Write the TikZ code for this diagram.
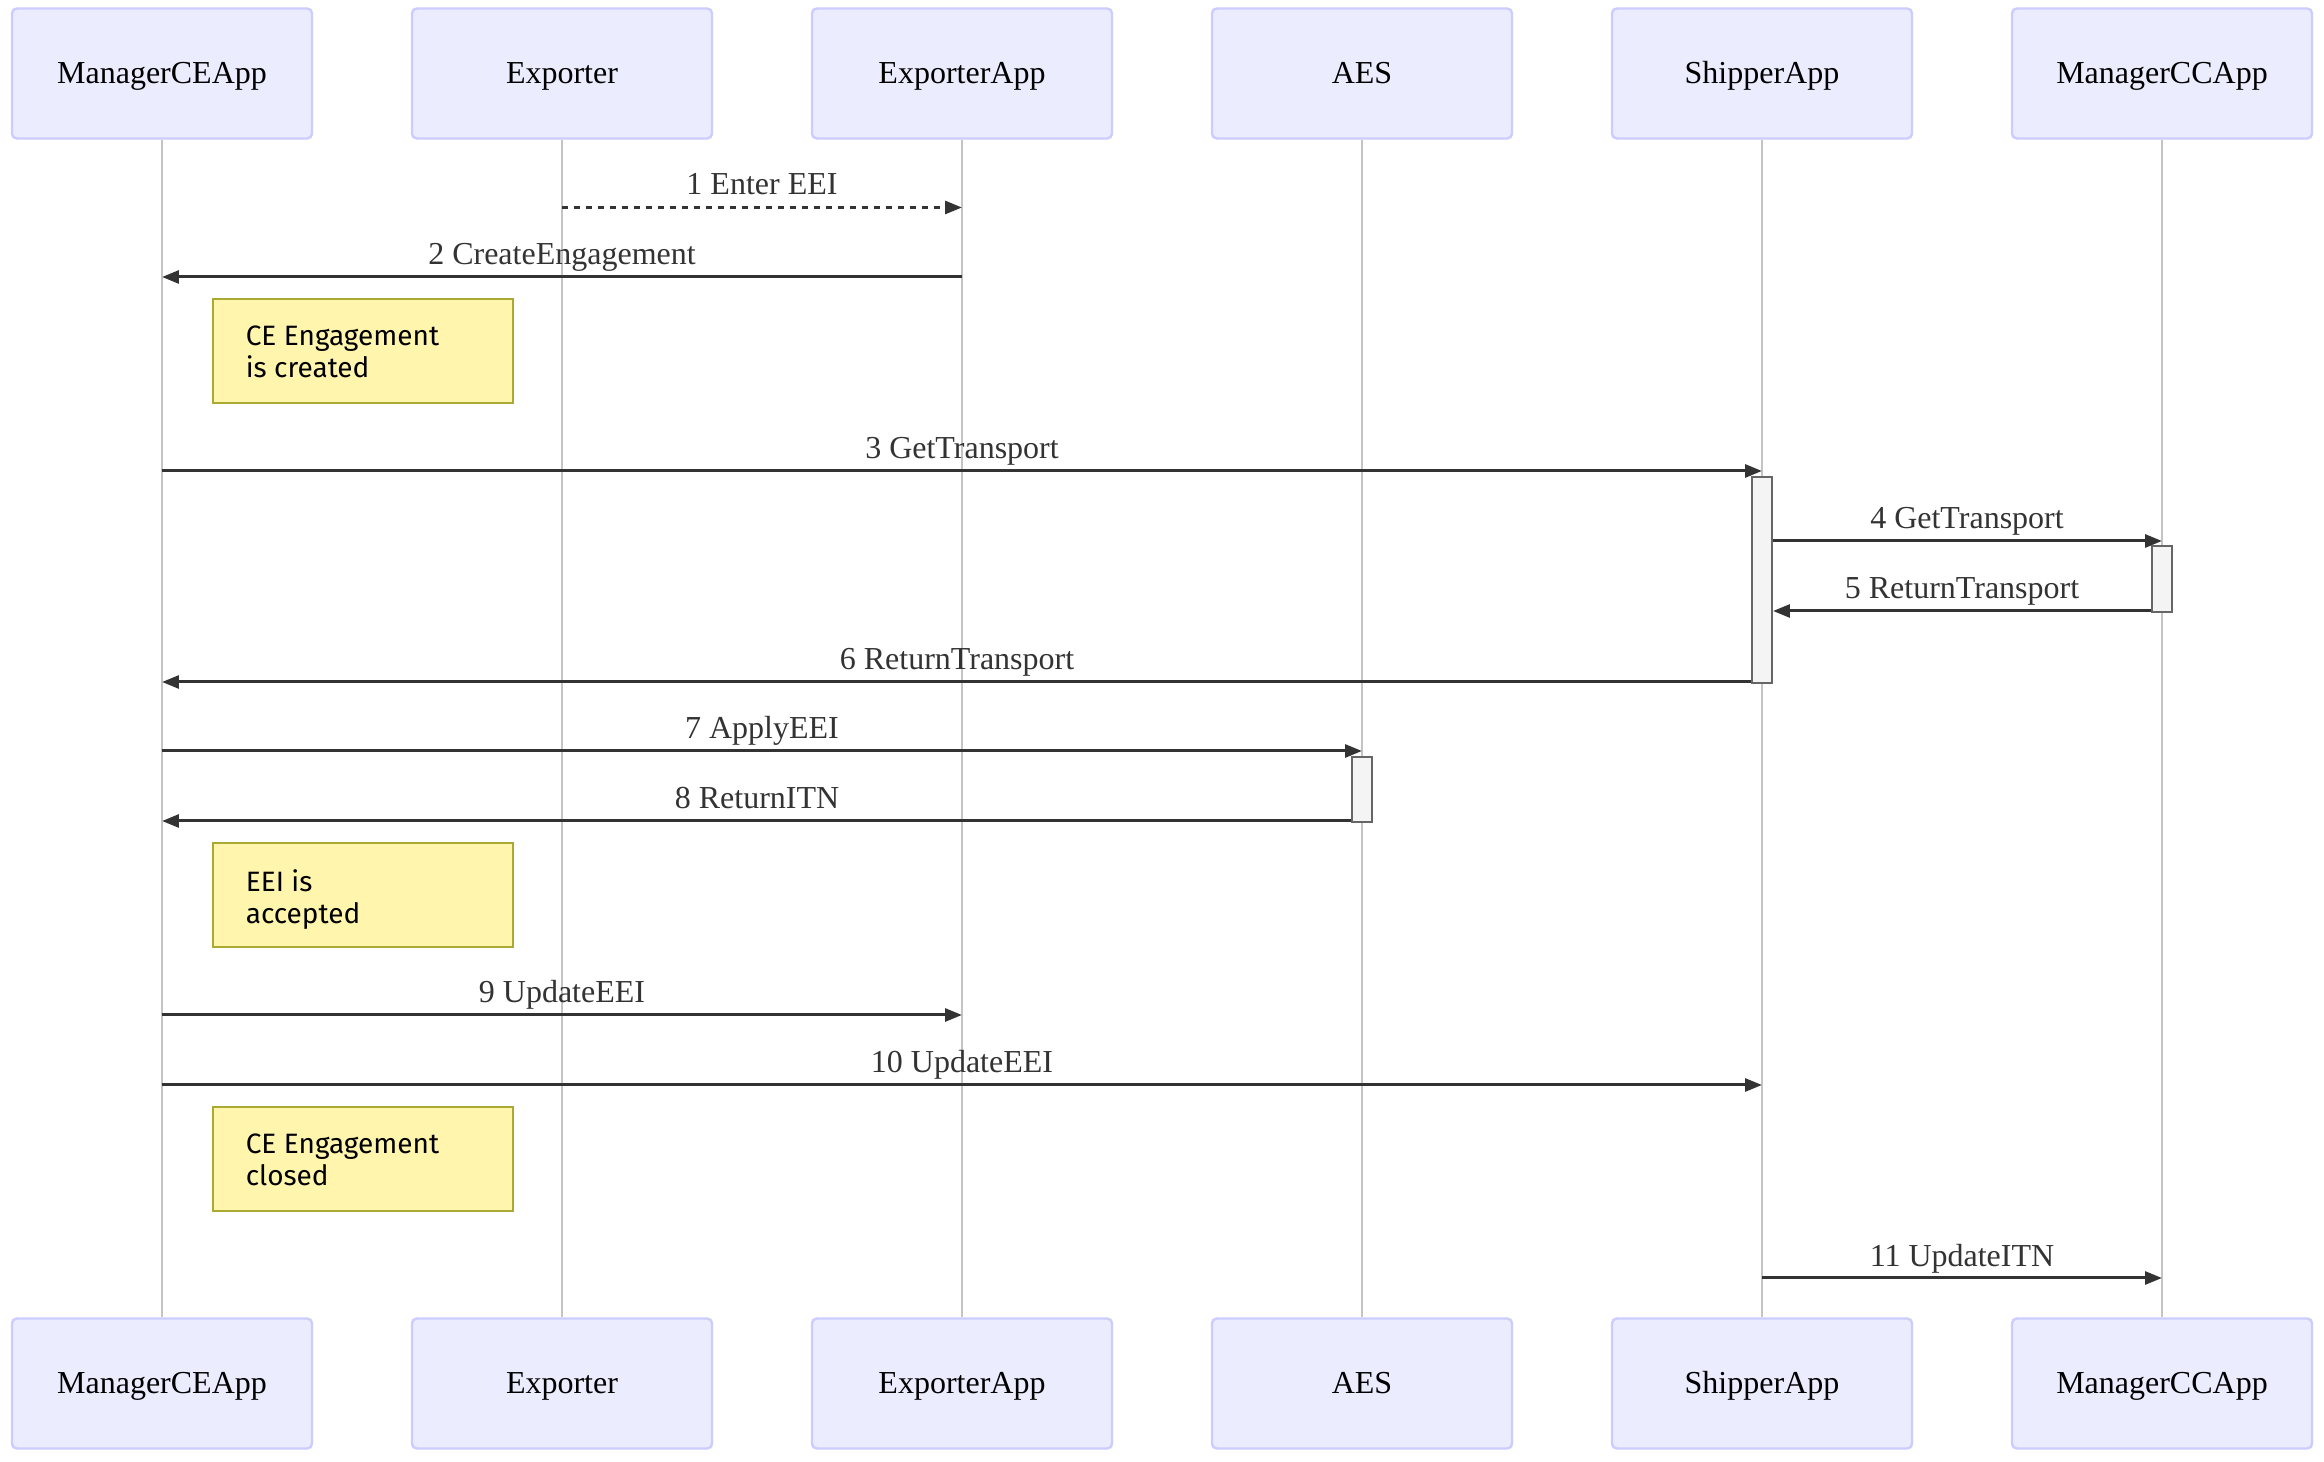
\documentclass[tikz,border=0pt]{standalone}
\usepackage{fontspec}
\setmainfont{Liberation Serif}
\newfontfamily\notefont{Fira Sans}
\usetikzlibrary{arrows.meta}
\definecolor{actfill}{HTML}{ECECFF}
\definecolor{actdraw}{HTML}{CCCCFF}
\definecolor{lifecol}{HTML}{C4C4C4}
\definecolor{msgcol}{HTML}{333333}
\definecolor{notefill}{HTML}{FFF5AD}
\definecolor{notedraw}{HTML}{AAAA33}
\definecolor{actvfill}{HTML}{F4F4F4}
\definecolor{actvdraw}{HTML}{666666}
\tikzset{
  actor/.style={draw=actdraw, fill=actfill, line width=0.6pt, rounded corners=1.2pt,
    minimum width=75pt, minimum height=32.5pt, inner sep=0pt, text height=6.6pt, text depth=1.6pt,
    font=\fontsize{8pt}{9.6pt}\selectfont, text=black},
  lifeln/.style={draw=lifecol, line width=0.5pt},
  msg/.style={draw=msgcol, line width=0.75pt, -{Triangle[length=4.2pt,width=3.2pt]}},
  msgdash/.style={msg, dash pattern=on 1.5pt off 1.5pt},
  mlabel/.style={anchor=base, inner sep=0pt, text=msgcol, font=\fontsize{8pt}{9.6pt}\selectfont},
  notebox/.style={draw=notedraw, fill=notefill, line width=0.5pt, minimum width=75pt, minimum height=26pt,
    inner sep=0pt, anchor=north west},
  notetext/.style={anchor=north west, inner sep=0pt, align=left, text=black,
    font=\notefont\fontsize{7pt}{7.9pt}\selectfont},
  actv/.style={draw=actvdraw, fill=actvfill, line width=0.5pt, minimum width=5pt, inner sep=0pt, anchor=north}
}
\begin{document}
\begin{tikzpicture}[x=0.25pt,y=-0.25pt]
\useasboundingbox[fill=white] (0,0) rectangle (2324,1462);
% actors top
\node[actor] (ce) at (162,73.5) {ManagerCEApp};
\node[actor] (ex) at (562,73.5) {Exporter};
\node[actor] (ea) at (962,73.5) {ExporterApp};
\node[actor] (aes) at (1362,73.5) {AES};
\node[actor] (sh) at (1762,73.5) {ShipperApp};
\node[actor] (cc) at (2162,73.5) {ManagerCCApp};
% actors bottom
\node[actor] (ceb) at (162,1383.5) {ManagerCEApp};
\node[actor] (exb) at (562,1383.5) {Exporter};
\node[actor] (eab) at (962,1383.5) {ExporterApp};
\node[actor] (aesb) at (1362,1383.5) {AES};
\node[actor] (shb) at (1762,1383.5) {ShipperApp};
\node[actor] (ccb) at (2162,1383.5) {ManagerCCApp};
% lifelines
\draw[lifeln] (ce.south) -- (ceb.north);
\draw[lifeln] (ex.south) -- (exb.north);
\draw[lifeln] (ea.south) -- (eab.north);
\draw[lifeln] (aes.south) -- (aesb.north);
\draw[lifeln] (sh.south) -- (shb.north);
\draw[lifeln] (cc.south) -- (ccb.north);
% activations
\node[actv, minimum height=51.5pt] (a1) at (1762,476) {};
\node[actv, minimum height=16.5pt] (a2) at (2162,545) {};
\node[actv, minimum height=16.25pt] (a3) at (1362,756) {};
% messages
\draw[msgdash] (ex |- 0,207.5) -- (ea |- 0,207.5);
\node[mlabel] (t1) at (762,195) {1 Enter EEI};
\draw[msg] (ea |- 0,277) -- (ce |- 0,277);
\node[mlabel] (t2) at (562,265) {2 CreateEngagement};
\node[notebox] (n1) at (212,298) {};
\node[notetext] (nt1) at (245,325) {CE Engagement\\is created};
\draw[msg] (ce |- 0,471) -- (sh |- 0,471);
\node[mlabel] (t3) at (962,459) {3 GetTransport};
\draw[msg] (a1.east |- 0,541) -- (cc |- 0,541);
\node[mlabel] (t4) at (1967,529) {4 GetTransport};
\draw[msg] (a2.west |- 0,611) -- (a1.east |- 0,611);
\node[mlabel] (t5) at (1962,599) {5 ReturnTransport};
\draw[msg] (a1.west |- 0,682) -- (ce |- 0,682);
\node[mlabel] (t6) at (957,670) {6 ReturnTransport};
\draw[msg] (ce |- 0,751) -- (aes |- 0,751);
\node[mlabel] (t7) at (762,739) {7 ApplyEEI};
\draw[msg] (a3.west |- 0,821) -- (ce |- 0,821);
\node[mlabel] (t8) at (757,809) {8 ReturnITN};
\node[notebox] (n2) at (212,842) {};
\node[notetext] (nt2) at (245,869) {EEI is\\accepted};
\draw[msg] (ce |- 0,1015) -- (ea |- 0,1015);
\node[mlabel] (t9) at (562,1003) {9 UpdateEEI};
\draw[msg] (ce |- 0,1085) -- (sh |- 0,1085);
\node[mlabel] (t10) at (962,1073) {10 UpdateEEI};
\node[notebox] (n3) at (212,1106) {};
\node[notetext] (nt3) at (245,1133) {CE Engagement\\closed};
\draw[msg] (sh |- 0,1278) -- (cc |- 0,1278);
\node[mlabel] (t11) at (1962,1266) {11 UpdateITN};
\end{tikzpicture}
\end{document}
